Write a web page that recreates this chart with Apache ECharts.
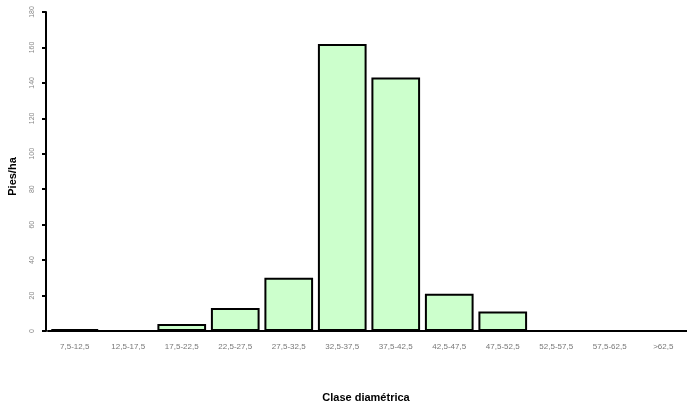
<!DOCTYPE html>
<html><head><meta charset="utf-8">
<script src="https://cdn.jsdelivr.net/npm/echarts@6/dist/echarts.min.js"></script>
<style>html,body{margin:0;padding:0;background:#fff}#c{width:687px;height:405px}</style>
</head><body><div id="c"></div>
<script>
const categories = ['7,5-12,5','12,5-17,5','17,5-22,5','22,5-27,5','27,5-32,5','32,5-37,5','37,5-42,5','42,5-47,5','47,5-52,5','52,5-57,5','57,5-62,5','>62,5'];
const values = [1, 0, 4, 13, 30, 162, 143, 21, 11, 0, 0, 0];
const yTicks = {min: 0, max: 180, interval: 20};

const chart = echarts.init(document.getElementById('c'), null, {renderer: 'canvas'});
chart.setOption({
  animation: false,
  backgroundColor: '#fff',
  grid: {left: 48, right: -3, top: 12, bottom: 74, containLabel: false, outerBoundsMode: 'none'},
  xAxis: {
    type: 'category', data: categories,
    name: 'Clase diamétrica', nameLocation: 'middle', nameGap: 61,
    nameTextStyle: {fontFamily: 'Liberation Sans, Arial', fontWeight: 'bold', fontSize: 11, color: '#000', padding: [0,0,0,-6]},
    axisLine: {lineStyle: {color: '#000', width: 2}},
    axisTick: {alignWithLabel: true, length: 4, lineStyle: {color: '#000', width: 2}},
    axisLabel: {color: '#777', fontSize: 8, fontFamily: 'Liberation Sans, Arial', margin: 12, interval: 0}
  },
  yAxis: {
    type: 'value', min: yTicks.min, max: yTicks.max, interval: yTicks.interval,
    offset: 2,
    name: 'Pies/ha', nameLocation: 'middle', nameGap: 28, nameRotate: 90,
    nameTextStyle: {fontFamily: 'Liberation Sans, Arial', fontWeight: 'bold', fontSize: 11, color: '#000', padding: [0, 10, 0, 0]},
    axisLine: {show: true, lineStyle: {color: '#000', width: 2}},
    axisTick: {show: true, length: 4, lineStyle: {color: '#000', width: 2}},
    splitLine: {show: false},
    axisLabel: {color: '#888', fontSize: 7, fontFamily: 'Liberation Sans, Arial', rotate: 90, margin: 10}
  },
  series: [{
    type: 'bar', data: values, barCategoryGap: '9%',
    itemStyle: {color: '#ccffcc', borderColor: '#000', borderWidth: 2}
  }]
});
</script></body></html>
